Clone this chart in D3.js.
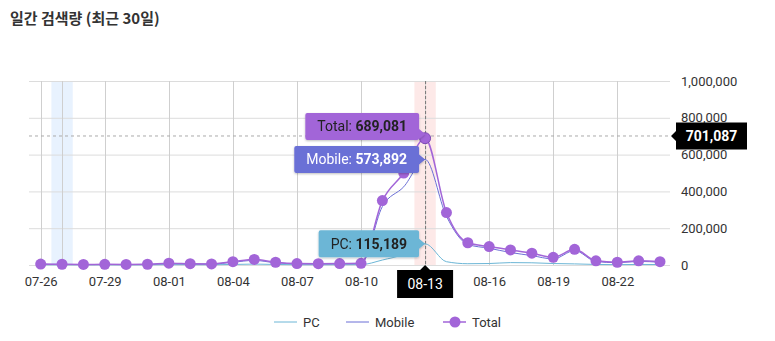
<!DOCTYPE html>
<html>
<head>
<meta charset="utf-8">
<script src="https://cdn.jsdelivr.net/npm/d3@7"></script>
<style>
  html, body { margin: 0; padding: 0; background: #fff; }
  svg { display: block; font-family: Roboto, "Noto Sans CJK KR", sans-serif; }
</style>
</head>
<body>
<svg id="chart" width="775" height="341"></svg>
<script>
// Daily search volume, last 30 days
const dates = ["07-26","07-27","07-28","07-29","07-30","07-31","08-01","08-02","08-03","08-04",
  "08-05","08-06","08-07","08-08","08-09","08-10","08-11","08-12","08-13","08-14",
  "08-15","08-16","08-17","08-18","08-19","08-20","08-21","08-22","08-23","08-24"];
const pcValues = [1000,800,600,700,600,800,2000,1500,1200,3000,5000,3000,1500,1200,1500,2000,
  27000,58000,115189,18000,7000,8000,13000,12000,8000,6000,3000,2000,3000,2500];
const mobileValues = [4000,3200,2400,2800,2400,3200,8000,5500,4800,15000,25000,12000,6500,5800,6500,7000,
  318000,425000,573892,265000,112000,91000,68000,51000,33000,78000,19000,12500,19500,15000];
const totalValues = [5000,4000,3000,3500,3000,4000,10000,7000,6000,18000,30000,15000,8000,7000,8000,9000,
  350000,500000,689081,285000,121000,100000,82000,64000,42000,85000,23000,15000,23000,18000];
const xTickLabels = ["07-26","07-29","08-01","08-04","08-07","08-10","08-13","08-16","08-19","08-22"];
const yTicks = [0,200000,400000,600000,800000,1000000];
const focusDate = "08-13";
const weekendDate = "07-27";
const crosshairValue = 701087;

const colors = { pc: "#6cb6d6", mobile: "#6b6fd6", total: "#a265d8" };

const svg = d3.select("#chart");
const plot = { left: 29, right: 670, top: 81, bottom: 265 };

const x = d3.scalePoint().domain(dates).range([40.7, 660]);
const y = d3.scaleLinear().domain([0, 1000000]).range([plot.bottom, plot.top]);
const step = x.step();
const fmt = d3.format(",");

// title
svg.append("text").attr("x", 10).attr("y", 24)
  .attr("font-family", "'Noto Sans CJK KR', sans-serif")
  .attr("font-size", 15).attr("font-weight", 700).attr("fill", "#333")
  .text("일간 검색량 (최근 30일)");

// highlight bands
svg.append("rect").attr("x", x(weekendDate) - step / 2).attr("y", plot.top)
  .attr("width", step).attr("height", plot.bottom - plot.top).attr("fill", "#e8f2fe");
svg.append("rect").attr("x", x(focusDate) - step / 2).attr("y", plot.top)
  .attr("width", step).attr("height", plot.bottom - plot.top).attr("fill", "#fde9e8");

// horizontal grid
svg.append("g").selectAll("line").data(yTicks).join("line")
  .attr("x1", plot.left).attr("x2", plot.right)
  .attr("y1", d => y(d) + 0.5).attr("y2", d => y(d) + 0.5)
  .attr("stroke", "#dcdcdc");

// vertical grid
svg.append("g").selectAll("line").data(xTickLabels.concat([weekendDate])).join("line")
  .attr("x1", d => Math.round(x(d)) + 0.5).attr("x2", d => Math.round(x(d)) + 0.5)
  .attr("y1", plot.top).attr("y2", plot.bottom)
  .attr("stroke", "#cfcfcf");

// right axis
const yAxis = svg.append("g").attr("transform", `translate(${plot.right},0)`)
  .call(d3.axisRight(y).tickValues(yTicks).tickFormat(fmt).tickSize(0).tickPadding(11));
yAxis.select(".domain").remove();
yAxis.selectAll("text").attr("font-size", 13).attr("fill", "#333").attr("font-family", "Roboto, sans-serif");

// bottom axis
const xAxis = svg.append("g").attr("transform", `translate(0,${plot.bottom})`)
  .call(d3.axisBottom(x).tickValues(xTickLabels).tickSize(0).tickPadding(12));
xAxis.select(".domain").remove();
xAxis.selectAll("text").attr("font-size", 13).attr("fill", "#333").attr("font-family", "Roboto, sans-serif");
xAxis.selectAll(".tick").filter(d => d === focusDate).remove();

// crosshair lines
svg.append("line").attr("x1", plot.left).attr("x2", plot.right)
  .attr("y1", y(crosshairValue)).attr("y2", y(crosshairValue))
  .attr("stroke", "#aaa").attr("stroke-dasharray", "3,3");
svg.append("line").attr("x1", x(focusDate) + 0.5).attr("x2", x(focusDate) + 0.5)
  .attr("y1", plot.top).attr("y2", plot.bottom)
  .attr("stroke", "#777").attr("stroke-dasharray", "3,2");

// series lines
const line = d3.line().x((d, i) => x(dates[i])).y(d => y(d)).curve(d3.curveMonotoneX);
[["pc", pcValues, 1], ["mobile", mobileValues, 1], ["total", totalValues, 1.5]].forEach(([k, vals, w]) => {
  svg.append("path").datum(vals).attr("d", line)
    .attr("fill", "none").attr("stroke", colors[k]).attr("stroke-width", w);
});

// total points
svg.append("g").selectAll("circle").data(totalValues).join("circle")
  .attr("cx", (d, i) => x(dates[i])).attr("cy", d => y(d))
  .attr("r", 5.5)
  .attr("fill", colors.total)
  .attr("stroke", (d, i) => dates[i] === focusDate ? "#7c48b4" : "none")
  .attr("stroke-width", 1);

// drop shadow for tooltips
const defs = svg.append("defs");
const f = defs.append("filter").attr("id", "shadow").attr("x", "-20%").attr("y", "-30%").attr("width", "140%").attr("height", "170%");
f.append("feDropShadow").attr("dx", 0).attr("dy", 1).attr("stdDeviation", 1.2).attr("flood-color", "#000").attr("flood-opacity", 0.25);

// tooltips for the focused day
const fi = dates.indexOf(focusDate);
const fx = x(focusDate);
const tips = [
  { label: "PC", value: pcValues[fi], bg: colors.pc, fg: "#222" },
  { label: "Mobile", value: mobileValues[fi], bg: colors.mobile, fg: "#fff" },
  { label: "Total", value: totalValues[fi], bg: colors.total, fg: "#222" }
];
const boxH = 27, gap = 6;
let limit = Infinity;
tips.forEach(t => {
  let cy = y(t.value);
  if (cy + boxH / 2 > limit - gap) cy = limit - gap - boxH / 2;
  t.cy = cy;
  limit = cy - boxH / 2;
});
tips.forEach(t => {
  const g = svg.append("g").attr("filter", "url(#shadow)");
  const txt = g.append("text").attr("y", t.cy + 5).attr("font-size", 14).attr("fill", t.fg);
  txt.append("tspan").text(t.label + ": ");
  txt.append("tspan").attr("font-weight", 700).text(fmt(t.value));
  const tw = txt.node().getComputedTextLength();
  const right = fx - 6;
  const w = tw + 24;
  const left = right - w;
  const top = t.cy - boxH / 2;
  const py = Math.min(Math.max(y(t.value), top + 6), top + boxH - 6);
  g.insert("path", "text")
    .attr("d", `M${left + 2},${top} H${right - 2} Q${right},${top} ${right},${top + 2} V${py - 5} L${fx},${py} L${right},${py + 5} V${top + boxH - 2} Q${right},${top + boxH} ${right - 2},${top + boxH} H${left + 2} Q${left},${top + boxH} ${left},${top + boxH - 2} V${top + 2} Q${left},${top} ${left + 2},${top} Z`)
    .attr("fill", t.bg);
  txt.attr("x", left + 12);
});

// x crosshair label
const xl = svg.append("g");
const xlW = 56, xlTop = 270, xlH = 28;
xl.append("path")
  .attr("d", `M${fx - xlW / 2},${xlTop} H${fx - 5} L${fx},${xlTop - 5} L${fx + 5},${xlTop} H${fx + xlW / 2} V${xlTop + xlH} H${fx - xlW / 2} Z`)
  .attr("fill", "#000");
xl.append("text").attr("x", fx).attr("y", xlTop + 19).attr("text-anchor", "middle")
  .attr("font-size", 14).attr("fill", "#fff").text(focusDate);

// y crosshair label
const yv = y(crosshairValue);
const yl = svg.append("g");
const ylLeft = 676, ylW = 71, ylH = 27;
yl.append("path")
  .attr("d", `M${ylLeft},${yv - ylH / 2} H${ylLeft + ylW} V${yv + ylH / 2} H${ylLeft} V${yv + 5} L${ylLeft - 5},${yv} L${ylLeft},${yv - 5} Z`)
  .attr("fill", "#000");
yl.append("text").attr("x", ylLeft + ylW / 2).attr("y", yv + 5).attr("text-anchor", "middle")
  .attr("font-size", 14).attr("font-weight", 700).attr("fill", "#fff").text(fmt(crosshairValue));

// legend
const legend = svg.append("g").attr("transform", "translate(0,322)");
const items = [
  { key: "pc", label: "PC", x: 274, dot: false },
  { key: "mobile", label: "Mobile", x: 346, dot: false },
  { key: "total", label: "Total", x: 443, dot: true }
];
items.forEach(it => {
  legend.append("line").attr("x1", it.x).attr("x2", it.x + 23).attr("y1", 0).attr("y2", 0)
    .attr("stroke", colors[it.key]).attr("stroke-width", it.dot ? 1.5 : 1);
  if (it.dot) legend.append("circle").attr("cx", it.x + 12).attr("cy", 0).attr("r", 5.5).attr("fill", colors[it.key]);
  legend.append("text").attr("x", it.x + 29).attr("y", 5).attr("font-size", 13).attr("fill", "#333").text(it.label);
});
</script>
</body>
</html>
